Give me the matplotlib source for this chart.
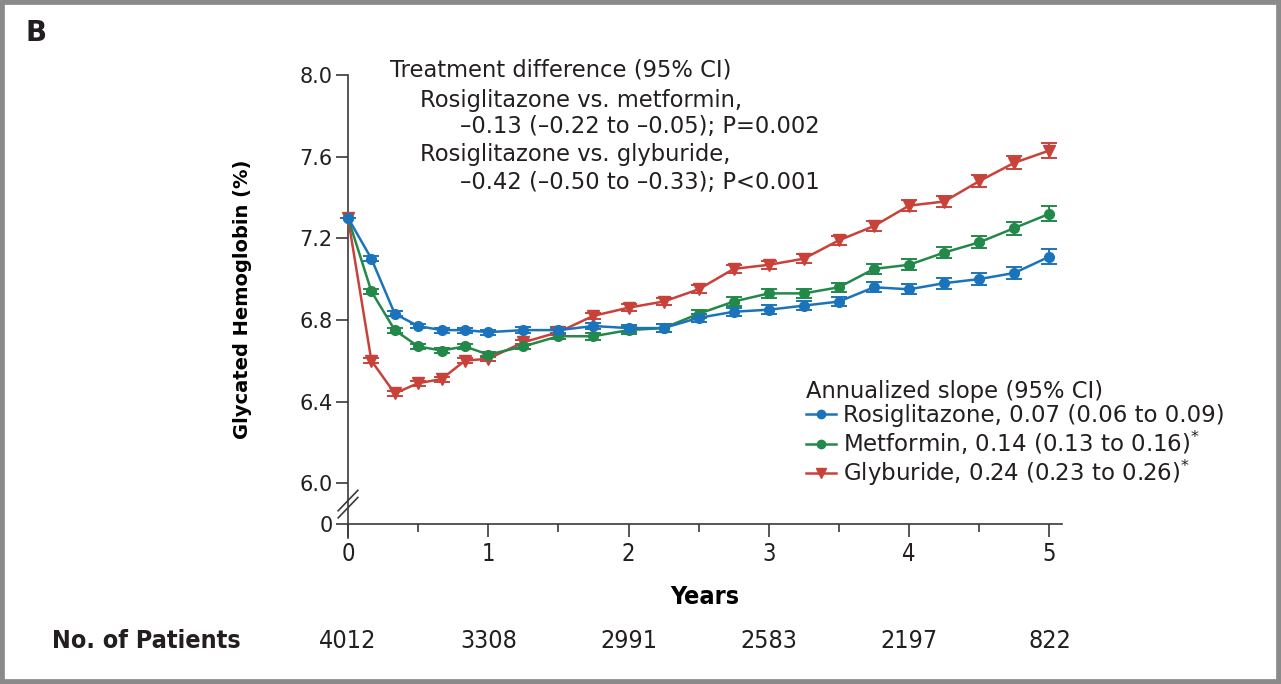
import matplotlib
matplotlib.use("Agg")
import matplotlib.pyplot as plt
from matplotlib.lines import Line2D
from matplotlib.patches import Rectangle

# visit times (years) and mean glycated hemoglobin per arm
years = [0, 1/6, 2/6, 3/6, 4/6, 5/6, 1, 1.25, 1.5, 1.75, 2, 2.25, 2.5,
         2.75, 3, 3.25, 3.5, 3.75, 4, 4.25, 4.5, 4.75, 5]
rosi = [7.30, 7.10, 6.83, 6.77, 6.75, 6.75, 6.74, 6.75, 6.75, 6.77, 6.76, 6.76, 6.81,
        6.84, 6.85, 6.87, 6.89, 6.96, 6.95, 6.98, 7.00, 7.03, 7.11]
metf = [7.30, 6.94, 6.75, 6.67, 6.65, 6.67, 6.63, 6.67, 6.72, 6.72, 6.75, 6.76, 6.83,
        6.89, 6.93, 6.93, 6.96, 7.05, 7.07, 7.13, 7.18, 7.25, 7.32]
glyb = [7.30, 6.60, 6.44, 6.49, 6.51, 6.60, 6.61, 6.69, 6.74, 6.82, 6.86, 6.89, 6.95,
        7.05, 7.07, 7.10, 7.19, 7.26, 7.36, 7.38, 7.48, 7.57, 7.63]
rosi_err = [0, .012, .012, .012, .012, .012, .013, .014, .015, .016, .017, .018, .019,
            .020, .021, .022, .023, .024, .025, .027, .029, .031, .035]
metf_err = [0, .012, .012, .012, .012, .012, .013, .014, .015, .016, .017, .018, .019,
            .020, .021, .022, .023, .025, .026, .028, .030, .032, .036]
glyb_err = [0, .012, .012, .012, .012, .012, .013, .014, .015, .016, .017, .018, .019,
            .020, .021, .022, .023, .025, .026, .028, .030, .032, .036]

labels = ["Rosiglitazone, 0.07 (0.06 to 0.09)",
          "Metformin, 0.14 (0.13 to 0.16)$^{*}$",
          "Glyburide, 0.24 (0.23 to 0.26)$^{*}$"]
patients = ["4012", "3308", "2991", "2583", "2197", "822"]
patient_years = [0, 1, 2, 3, 4, 5]
yticks = [5.8, 6.0, 6.4, 6.8, 7.2, 7.6, 8.0]
ytick_labels = ["0", "6.0", "6.4", "6.8", "7.2", "7.6", "8.0"]

BLUE = "#1b74bb"
GREEN = "#23894b"
RED = "#c9423a"
INK = "#231f20"
AXC = "#3a3a3a"

plt.rcParams["font.family"] = ["DejaVu Sans"]
plt.rcParams["text.color"] = INK
plt.rcParams["mathtext.default"] = "regular"

fig = plt.figure(figsize=(12.81, 6.84), dpi=100)
W, H = 1281, 684
ax = fig.add_axes([348 / W, 1 - 524 / H, 714 / W, 449 / H])

series = [(rosi, rosi_err, BLUE, "o", 7), (metf, metf_err, GREEN, "o", 7),
          (glyb, glyb_err, RED, "v", 8)]
for vals, err, col, mk, ms in series[::-1]:
    ax.errorbar(years, vals, yerr=err, color=col, marker=mk, markersize=ms,
                linewidth=1.8, elinewidth=1.4, capsize=6, capthick=1.4,
                clip_on=False, zorder=3)

ax.set_xlim(0, 5.09)
ax.set_ylim(5.8, 8.0)
ax.set_yticks(yticks)
ax.set_yticklabels(ytick_labels)
ax.set_xticks([0, 1, 2, 3, 4, 5])
ax.set_xticks([0.5, 1.5, 2.5, 3.5, 4.5], minor=True)
for s in ["top", "right"]:
    ax.spines[s].set_visible(False)
for s in ["left", "bottom"]:
    ax.spines[s].set_color(AXC)
    ax.spines[s].set_linewidth(1.2)
ax.spines["left"].set_bounds(5.73, 8.0)
ax.tick_params(axis="y", direction="out", length=9, width=1.2, color=AXC,
               labelsize=15, labelcolor=INK, pad=2)
ax.tick_params(axis="x", which="major", direction="out", length=9, width=1.2,
               color=AXC, labelsize=17, labelcolor=INK, pad=4)
ax.tick_params(axis="x", which="minor", direction="out", length=6, width=1.2,
               color=AXC)
for lab in ax.get_xticklabels():
    lab.set_fontstretch("condensed")

# axis break marks on the y axis
for dy in (0.0, -0.035):
    ax.plot([-0.07, 0.07], [5.865 + dy, 5.965 + dy], color=AXC,
            linewidth=1.2, clip_on=False, zorder=4)

ax.set_ylabel("Glycated Hemoglobin (%)", fontsize=14, fontweight="bold")
ax.yaxis.set_label_coords(-0.135, 0.5)
ax.set_xlabel("Years", fontsize=18, fontweight="bold", fontstretch="condensed",
              labelpad=14)

# treatment difference block
notes = [("Treatment difference (95% CI)", 390, 70),
         ("Rosiglitazone vs. metformin,", 420, 100),
         ("–0.13 (–0.22 to –0.05); P=0.002", 460, 127),
         ("Rosiglitazone vs. glyburide,", 420, 155),
         ("–0.42 (–0.50 to –0.33); P<0.001", 460, 182)]
for txt, px, py in notes:
    fig.text(px / W, 1 - py / H, txt, fontsize=16.3, va="center", ha="left")

handles = [Line2D([], [], color=c, marker=m, markersize=ms - 1, linewidth=1.8)
           for _, _, c, m, ms in series]
leg = ax.legend(handles, labels, title="Annualized slope (95% CI)",
                loc="upper left", bbox_to_anchor=(797 / W, 1 - 371 / H),
                bbox_transform=fig.transFigure, frameon=False, fontsize=16.5,
                title_fontsize=16.3, handlelength=1.3, handletextpad=0.3,
                labelspacing=0.05, borderaxespad=0, alignment="left")

fig.text(25 / W, 1 - 33 / H, "B", fontsize=20, fontweight="bold", va="center")
fig.text(52 / W, 1 - 641 / H, "No. of Patients", fontsize=18, fontweight="bold",
         fontstretch="condensed", va="center")
for yr, n in zip(patient_years, patients):
    xf = ax.transData.transform((yr, 0))[0] / fig.dpi / fig.get_figwidth()
    fig.text(xf, 1 - 641 / H, n, fontsize=18, fontstretch="condensed",
             ha="center", va="center")

fig.patches.append(Rectangle((0, 0), 1, 1, transform=fig.transFigure, fill=False,
                             edgecolor="#8a8a8a", linewidth=7))

fig.savefig("out.png", dpi=100)
